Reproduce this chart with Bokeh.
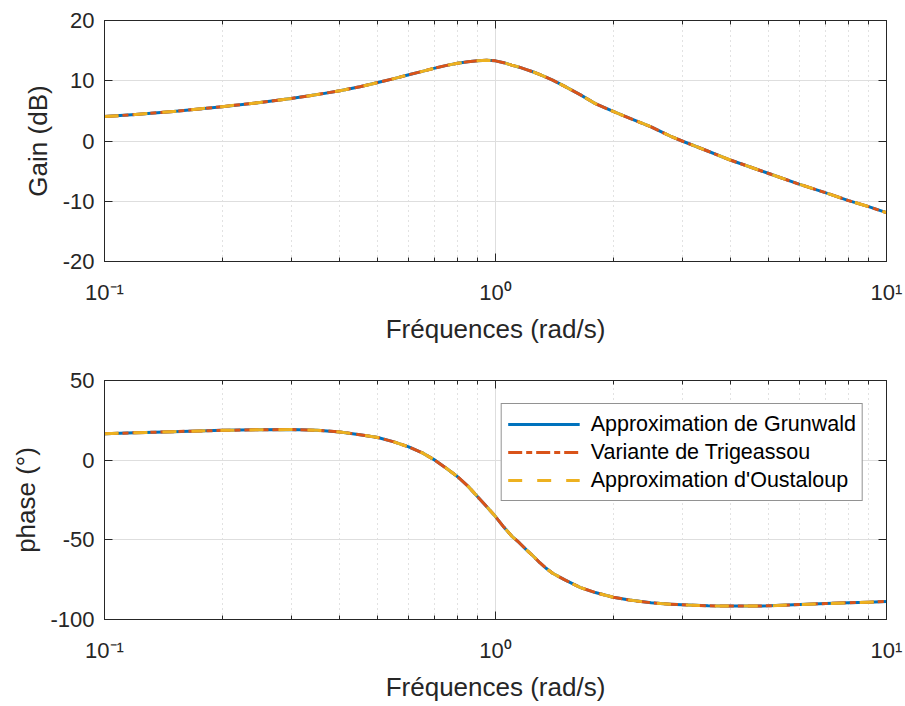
from bokeh.plotting import figure
from bokeh.models import (FixedTicker, LogAxis, LinearAxis, Range1d, Legend, LegendItem,
                          ColumnDataSource)
from bokeh.layouts import column
from bokeh.embed import file_html
from bokeh.resources import INLINE

# ---- data ----
freq = [0.1, 0.12, 0.15, 0.2, 0.25, 0.3, 0.35, 0.4, 0.45, 0.5, 0.55, 0.6, 0.65, 0.7, 0.75,
        0.8, 0.85, 0.9, 0.95, 1.0, 1.05, 1.1, 1.15, 1.2, 1.25, 1.3, 1.35, 1.4, 1.5, 1.65,
        1.8, 2.0, 2.2, 2.5, 2.8, 3.0, 3.5, 4.0, 4.5, 5.0, 6.0, 7.0, 8.0, 9.0, 10.0]
gain_grunwald = [4.05, 4.4, 4.9, 5.7, 6.4, 7.05, 7.7, 8.35, 9.0, 9.7, 10.35, 11.0, 11.55, 12.1, 12.55,
                 12.9, 13.15, 13.3, 13.4, 13.3, 13.0, 12.6, 12.25, 11.85, 11.45, 11.0, 10.55, 10.1, 9.1, 7.65,
                 6.2, 4.9, 3.8, 2.35, 0.8, 0.0, -1.7, -3.2, -4.35, -5.4, -7.2, -8.6, -9.9, -10.9, -11.9]
gain_trigeassou = list(gain_grunwald)
gain_oustaloup = list(gain_grunwald)
phase_grunwald = [16.6, 17.2, 17.9, 18.7, 19.1, 19.2, 18.75, 17.7, 16.0, 14.2, 11.5, 8.3, 4.6, 0.0, -5.2,
                  -10.4, -16.3, -22.9, -29.3, -35.4, -42.0, -47.6, -51.8, -56.3, -60.3, -64.5, -68.0, -71.0, -75.0, -80.0,
                  -83.1, -86.0, -87.8, -89.5, -90.4, -90.8, -91.4, -91.6, -91.6, -91.4, -90.6, -90.0, -89.5, -89.1, -88.7]
phase_trigeassou = list(phase_grunwald)
phase_oustaloup = list(phase_grunwald)

series_names = ["Approximation de Grunwald", "Variante de Trigeassou", "Approximation d'Oustaloup"]
x_ticks = [0.1, 1.0, 10.0]
x_tick_labels = {0.1: "10\u207b\u00b9", 1.0: "10\u2070", 10.0: "10\u00b9"}
x_minor = [0.2, 0.3, 0.4, 0.5, 0.6, 0.7, 0.8, 0.9, 2, 3, 4, 5, 6, 7, 8, 9]
gain_ticks = [-20, -10, 0, 10, 20]
phase_ticks = [-100, -50, 0, 50]

FONT = "Liberation Sans"
AX = "#262626"
GRID = "#dedede"
MINOR = "#c4c4c4"
colors = ["#0072BD", "#D95319", "#EDB120"]
dashes = ["solid", "14 4 6 4", "14 15"]


def make_fig(height, top, bottom, ymin, ymax, yticks, ylabel, ylabel_standoff):
    p = figure(width=905, height=height, x_axis_type="log", output_backend="svg",
               toolbar_location=None, x_range=Range1d(0.1, 10), y_range=Range1d(ymin, ymax),
               min_border_left=104, min_border_right=19, min_border_top=top,
               min_border_bottom=bottom)
    p.outline_line_color = AX
    p.background_fill_color = "white"
    p.border_fill_color = "white"
    p.xaxis.ticker = FixedTicker(ticks=x_ticks, minor_ticks=x_minor)
    p.yaxis.ticker = FixedTicker(ticks=yticks, minor_ticks=[])
    p.xaxis.major_label_overrides = x_tick_labels
    p.yaxis.major_label_overrides = {t: str(t) for t in yticks}
    for ax in (p.xaxis[0], p.yaxis[0]):
        ax.axis_line_color = AX
        ax.major_tick_line_color = AX
        ax.minor_tick_line_color = AX
        ax.major_tick_in = 8
        ax.major_tick_out = 0
        ax.minor_tick_in = 4
        ax.minor_tick_out = 0
        ax.major_label_text_font = FONT
        ax.major_label_text_font_size = "22px"
        ax.major_label_text_color = AX
        ax.axis_label_text_font = FONT
        ax.axis_label_text_font_size = "26px"
        ax.axis_label_text_color = AX
        ax.axis_label_text_font_style = "normal"
    p.yaxis.minor_tick_line_color = None
    p.xaxis.axis_label = "Fréquences (rad/s)"
    p.xaxis.major_label_standoff = 18
    p.xaxis.axis_label_standoff = 6
    p.yaxis.axis_label = ylabel
    p.yaxis.major_label_standoff = 10
    p.yaxis.axis_label_standoff = ylabel_standoff

    top_ax = LogAxis(ticker=FixedTicker(ticks=x_ticks, minor_ticks=x_minor))
    right_ax = LinearAxis(ticker=FixedTicker(ticks=yticks, minor_ticks=[]))
    for ax in (top_ax, right_ax):
        ax.axis_line_color = AX
        ax.major_tick_line_color = AX
        ax.minor_tick_line_color = AX
        ax.major_tick_in = 8
        ax.major_tick_out = 0
        ax.minor_tick_in = 4
        ax.minor_tick_out = 0
        ax.major_label_text_font_size = "2px"
        ax.major_label_text_color = None
        ax.major_label_standoff = 0
    right_ax.minor_tick_line_color = None
    p.add_layout(top_ax, "above")
    p.add_layout(right_ax, "right")

    p.ygrid.grid_line_color = GRID
    p.ygrid.grid_line_width = 1
    p.xgrid.grid_line_color = GRID
    p.xgrid.minor_grid_line_color = MINOR
    p.xgrid.minor_grid_line_dash = "1 4"
    return p


p1 = make_fig(353, 20, 92, -20, 20, gain_ticks, "Gain (dB)", 7)
p2 = make_fig(353, 27, 87, -100, 50, phase_ticks, "phase (°)", 6)

for p, ys in ((p1, [gain_grunwald, gain_trigeassou, gain_oustaloup]),
              (p2, [phase_grunwald, phase_trigeassou, phase_oustaloup])):
    rs = []
    for y, c, d in zip(ys, colors, dashes):
        src = ColumnDataSource(dict(x=freq, y=y))
        r = p.line("x", "y", source=src, line_color=c, line_width=3, line_dash=d,
                   line_join="round")
        rs.append(r)
    if p is p2:
        leg = Legend(items=[LegendItem(label=n, renderers=[r]) for n, r in zip(series_names, rs)],
                     location="top_right")
        leg.margin = 23
        leg.padding = 6
        leg.spacing = 0
        leg.glyph_width = 72
        leg.glyph_height = 28
        leg.label_height = 28
        leg.label_standoff = 11
        leg.label_text_font = FONT
        leg.label_text_font_size = "21.5px"
        leg.label_text_color = "#000000"
        leg.border_line_color = AX
        leg.border_line_width = 1
        leg.background_fill_color = "white"
        leg.background_fill_alpha = 1
        p.add_layout(leg, "center")

layout = column(p1, p2, spacing=0)
open("out.html", "w").write(file_html(layout, INLINE))
